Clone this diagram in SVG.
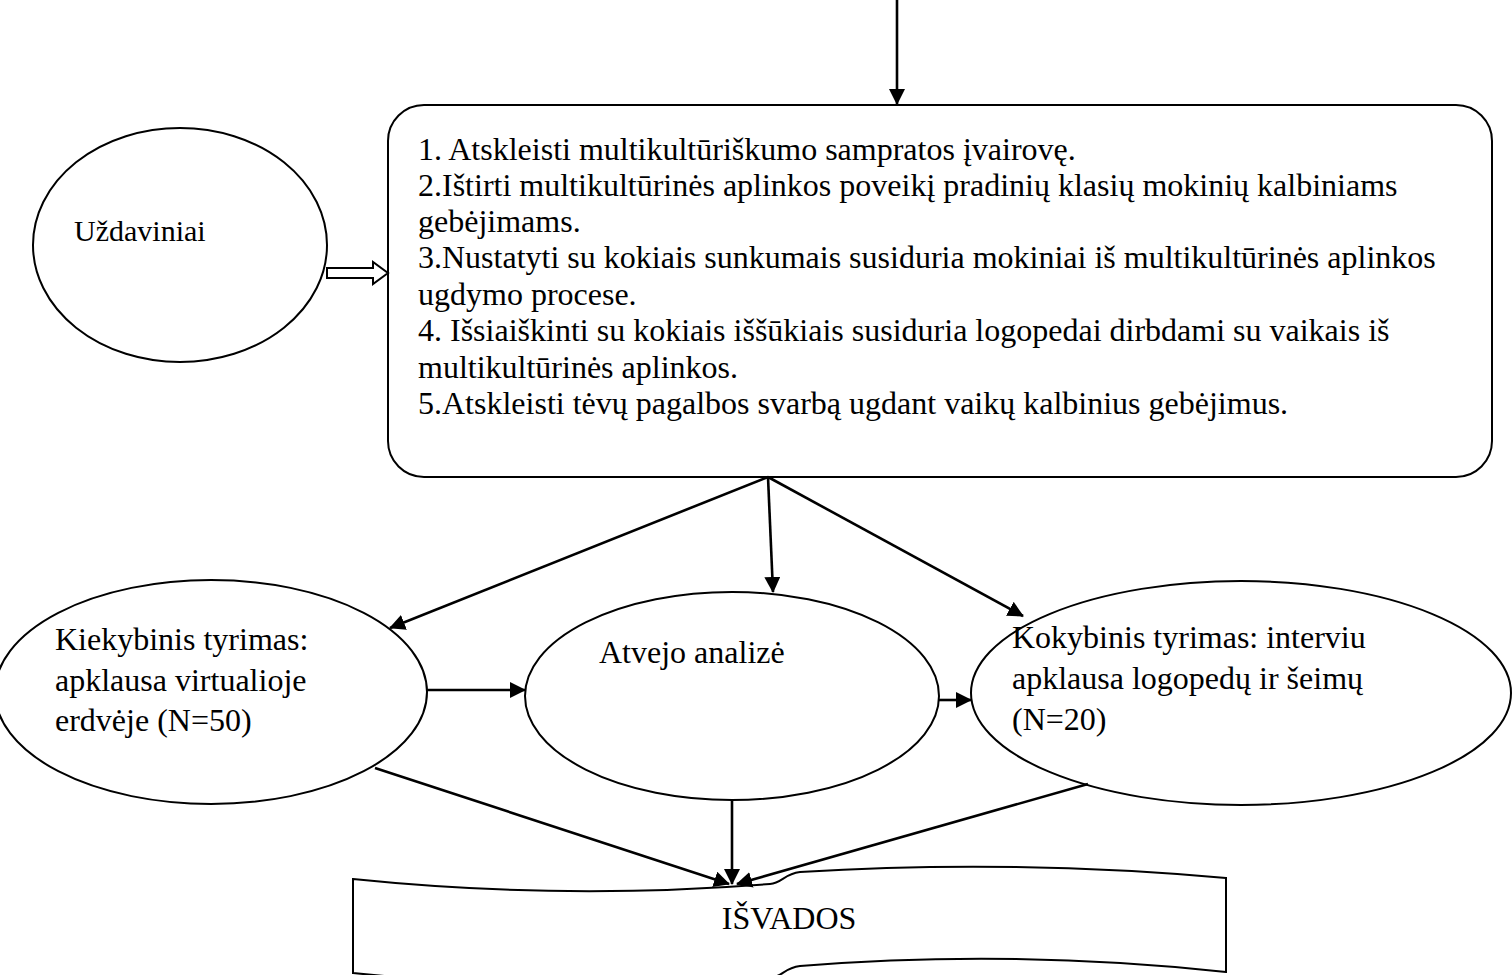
<svg xmlns="http://www.w3.org/2000/svg" width="1512" height="975" viewBox="0 0 1512 975">
<style>
.shape{fill:#fff;stroke:#000;stroke-width:2}
.t{font-family:"Liberation Serif","Times New Roman",serif;fill:#000}
.conn line{stroke:#000;stroke-width:2.6;marker-end:url(#ah)}
</style>
<defs>
<marker id="ah" viewBox="0 0 16 16" refX="15" refY="8" markerWidth="16" markerHeight="16" markerUnits="userSpaceOnUse" orient="auto">
<path d="M0,0 L16,8 L0,16 z" fill="#000"/>
</marker>
</defs>
<rect width="1512" height="975" fill="#fff"/>
<g id="uzdaviniai">
<ellipse class="shape" cx="180" cy="245" rx="147" ry="117"/>
<text class="t" x="74" y="241" font-size="30">Uždaviniai</text>
</g>
<g id="tasks">
<rect class="shape" x="388" y="105" width="1104" height="372" rx="36" ry="36"/>
<g class="t" font-size="32">
<text x="418" y="160">1. Atskleisti multikultūriškumo sampratos įvairovę.</text>
<text x="418" y="196">2.Ištirti multikultūrinės aplinkos poveikį pradinių klasių mokinių kalbiniams</text>
<text x="418" y="232">gebėjimams.</text>
<text x="418" y="268">3.Nustatyti su kokiais sunkumais susiduria mokiniai iš multikultūrinės aplinkos</text>
<text x="418" y="305">ugdymo procese.</text>
<text x="418" y="341">4. Išsiaiškinti su kokiais iššūkiais susiduria logopedai dirbdami su vaikais iš</text>
<text x="418" y="378">multikultūrinės aplinkos.</text>
<text x="418" y="414">5.Atskleisti tėvų pagalbos svarbą ugdant vaikų kalbinius gebėjimus.</text>
</g>
</g>
<g id="kiekybinis">
<ellipse class="shape" cx="211" cy="692" rx="216" ry="112"/>
<g class="t" font-size="32">
<text x="55" y="650">Kiekybinis tyrimas:</text>
<text x="55" y="691">apklausa virtualioje</text>
<text x="55" y="731">erdvėje (N=50)</text>
</g>
</g>
<g id="atvejo">
<ellipse class="shape" cx="732" cy="696" rx="207" ry="104"/>
<text class="t" x="599" y="663" font-size="32">Atvejo analizė</text>
</g>
<g id="kokybinis">
<ellipse class="shape" cx="1241" cy="693" rx="270" ry="112"/>
<g class="t" font-size="32">
<text x="1012" y="648">Kokybinis tyrimas: interviu</text>
<text x="1012" y="689">apklausa logopedų ir šeimų</text>
<text x="1012" y="730">(N=20)</text>
</g>
</g>
<g id="isvados">
<path class="shape" d="M353,879 Q562,900.5 770,884 C782,883 784,874 800,872 Q1013,859 1226,878 L1226,972 Q1013,949 800,966 C784,968 782,977 770,978 Q562,994.5 353,973 Z"/>
<text class="t" x="789" y="929" font-size="32" text-anchor="middle">IŠVADOS</text>
</g>
<g id="connectors" class="conn">
<line x1="897" y1="0" x2="897" y2="104"/>
<line x1="768" y1="477" x2="390" y2="628"/>
<line x1="768" y1="477" x2="773" y2="592"/>
<line x1="768" y1="477" x2="1023" y2="616"/>
<line x1="427" y1="690" x2="525" y2="690"/>
<line x1="939" y1="700" x2="971" y2="700"/>
<line x1="375" y1="768" x2="729" y2="884"/>
<line x1="732" y1="800" x2="732" y2="884"/>
<line x1="1088" y1="784" x2="737" y2="884"/>
<polygon points="327,268 373,268 373,262 388,273 373,284 373,278 327,278" fill="#fff" stroke="#000" stroke-width="2"/>
</g>
</svg>
